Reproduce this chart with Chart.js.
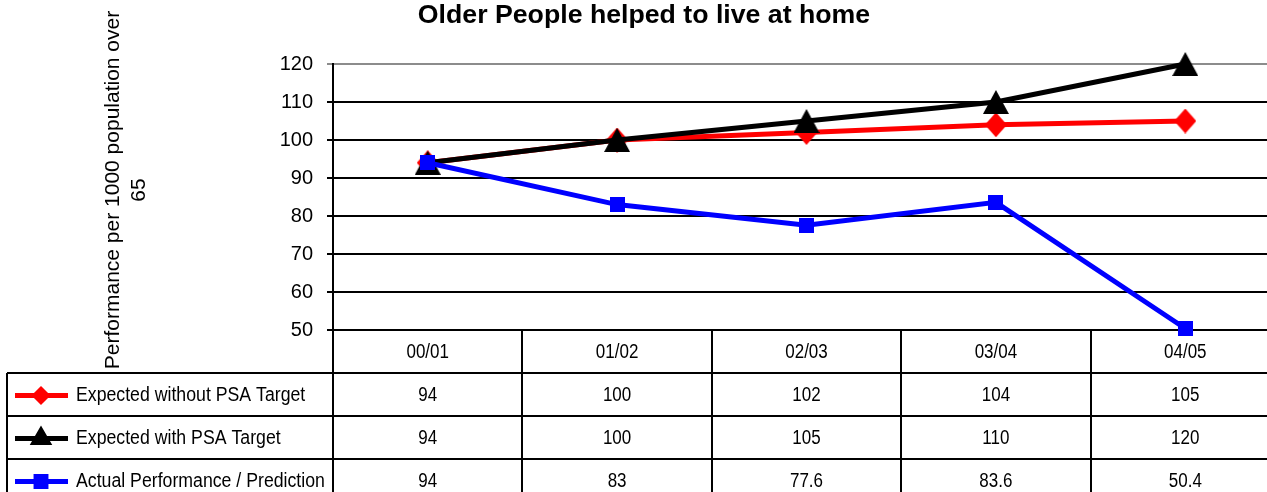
<!DOCTYPE html>
<html>
<head>
<meta charset="utf-8">
<script src="https://cdn.jsdelivr.net/npm/chart.js@4"></script>
<style>
  html, body { margin: 0; padding: 0; background: #fff; overflow: hidden; }
  #wrap { width: 1280px; height: 492px; overflow: hidden; }
  #helpedAtHome { display: block; width: 1280px; height: 492px; }
</style>
</head>
<body>
<div id="wrap"><canvas id="helpedAtHome" width="1280" height="492"></canvas></div>
<script>
const chartTitle = 'Older People helped to live at home'
const yAxisTitle = ['Performance per 1000 population over', '65']
const categories = ['00/01', '01/02', '02/03', '03/04', '04/05']
const seriesNames = ['Expected without PSA Target', 'Expected with PSA Target', 'Actual Performance / Prediction']
const expectedWithout = [94, 100, 102, 104, 105]
const expectedWith = [94, 100, 105, 110, 120]
const actualPerformance = [94, 83, 77.6, 83.6, 50.4]
const yMin = 50, yMax = 120, yStep = 10

;(function () {
  'use strict'

  const FONT = "'Liberation Sans', Arial, sans-serif"
  const NARROW = 0.85        // table text is condensed in the original
  const NARROW_LABEL = 0.885

  // centred marker images, the built in triangle sits too high
  function marker (shape, w, h, color) {
    const cv = document.createElement('canvas')
    cv.width = w
    cv.height = h
    const c = cv.getContext('2d')
    c.fillStyle = color
    c.beginPath()
    if (shape === 'diamond') {
      c.moveTo(w / 2, 0); c.lineTo(w, h / 2); c.lineTo(w / 2, h); c.lineTo(0, h / 2)
    } else if (shape === 'triangle') {
      c.moveTo(w / 2, 0); c.lineTo(w, h); c.lineTo(0, h)
    } else {
      c.rect(0, 0, w, h)
    }
    c.closePath()
    c.fill()
    return cv
  }

  const series = [
    { label: seriesNames[0], data: expectedWithout, color: '#ff0000', style: 'rectRot', img: marker('diamond', 22, 25, '#ff0000'), small: 6, order: 3 },
    { label: seriesNames[1], data: expectedWith, color: '#000000', style: 'triangle', img: marker('triangle', 26, 24, '#000000'), small: 8, order: 2 },
    { label: seriesNames[2], data: actualPerformance, color: '#0000ff', style: 'rect', img: marker('square', 15, 15, '#0000ff'), small: 7, order: 1 }
  ]

  function narrowText (c, str, x, y, align, k) {
    c.save()
    c.translate(x, y)
    c.scale(k || NARROW, 1)
    c.textAlign = align
    c.fillText(str, 0, 0)
    c.restore()
  }

  // title, rotated y title and the data table under the plot
  const extras = {
    id: 'extras',
    afterDraw (chart) {
      const c = chart.ctx
      const area = chart.chartArea
      const xs = chart.scales.x
      const colW = (area.right - area.left) / categories.length
      const rowH = 43
      const headTop = area.bottom
      const bodyTop = headTop + rowH
      const tableLeft = 7

      c.save()
      c.fillStyle = '#000'
      c.textBaseline = 'middle'

      c.font = 'bold 26.7px ' + FONT
      c.textAlign = 'center'
      c.fillText(chartTitle, 644, 16)

      c.save()
      c.translate(0, 190)
      c.rotate(-Math.PI / 2)
      c.font = '21px ' + FONT
      c.fillText(yAxisTitle[0], 0, 113)
      c.fillText(yAxisTitle[1], 0, 139)
      c.restore()

      // grid of the table
      c.strokeStyle = '#000'
      c.lineWidth = 2
      c.beginPath()
      for (let i = 0; i <= categories.length; i++) {
        const x = Math.round(area.left + i * colW)
        c.moveTo(x, headTop)
        c.lineTo(x, bodyTop + rowH * series.length)
      }
      for (let j = 0; j <= series.length; j++) {
        const y = bodyTop + j * rowH
        c.moveTo(tableLeft, y)
        c.lineTo(area.right, y)
      }
      c.moveTo(tableLeft, bodyTop)
      c.lineTo(tableLeft, bodyTop + rowH * series.length)
      c.stroke()

      c.font = '20px ' + FONT
      categories.forEach((cat, i) => {
        narrowText(c, cat, xs.getPixelForValue(i), headTop + rowH / 2 + 1, 'center')
      })

      series.forEach((s, j) => {
        const cy = bodyTop + j * rowH + rowH / 2 + 1
        c.strokeStyle = s.color
        c.lineWidth = 5
        c.beginPath()
        c.moveTo(15, cy)
        c.lineTo(68, cy)
        c.stroke()
        c.fillStyle = s.color
        c.strokeStyle = s.color
        Chart.helpers.drawPoint(c, { pointStyle: s.style, rotation: 0, radius: s.small, borderWidth: 1 }, 41, cy)
        c.fillStyle = '#000'
        narrowText(c, s.label, 76, cy, 'left', NARROW_LABEL)
        s.data.forEach((v, i) => {
          narrowText(c, String(v), xs.getPixelForValue(i), cy, 'center')
        })
      })
      c.restore()
    }
  }

  new Chart(document.getElementById('helpedAtHome'), {
    type: 'line',
    data: {
      labels: categories,
      datasets: series.map(s => ({
        label: s.label,
        data: s.data,
        order: s.order,
        borderColor: s.color,
        backgroundColor: s.color,
        borderWidth: 5,
        tension: 0,
        pointStyle: s.img,
        pointRadius: 12,
        pointBackgroundColor: s.color,
        pointBorderColor: s.color,
        clip: false
      }))
    },
    options: {
      responsive: false,
      animation: false,
      layout: { autoPadding: false, padding: { top: 64, bottom: 162, left: 0, right: 0 } },
      plugins: {
        legend: { display: false },
        title: { display: false },
        tooltip: { enabled: false }
      },
      scales: {
        x: { type: 'category', offset: true, display: false },
        y: {
          min: yMin,
          max: yMax,
          afterFit (scale) { scale.width = 333 },
          ticks: { stepSize: yStep, color: '#000', padding: 14, font: { family: FONT, size: 20 } },
          grid: {
            color: ctx => (ctx.tick && ctx.tick.value === yMax ? '#8c8c8c' : '#000'),
            lineWidth: 2,
            tickLength: 6
          },
          border: { color: '#000', width: 2 }
        }
      }
    },
    plugins: [extras]
  })
}())
</script>
</body>
</html>
